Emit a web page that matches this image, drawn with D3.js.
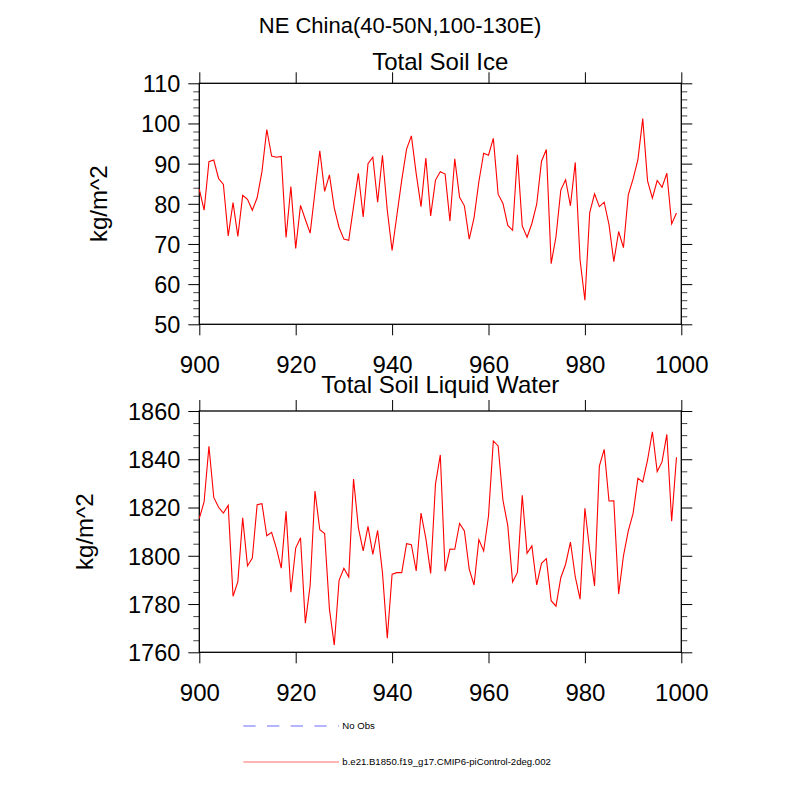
<!DOCTYPE html>
<html>
<head>
<meta charset="utf-8">
<script src="https://cdn.jsdelivr.net/npm/d3@7"></script>
<style>
  html, body { margin: 0; padding: 0; background: #fff; }
  svg { display: block; font-family: "Liberation Sans", Arial, Helvetica, sans-serif; }
</style>
</head>
<body>
<svg id="chart" width="800" height="800"></svg>
<script>
const mainTitle = "NE China(40-50N,100-130E)";
const panelTitles = ["Total Soil Ice", "Total Soil Liquid Water"];
const yLabel = "kg/m^2";
const startYear = 900;
const xTicks = [900, 920, 940, 960, 980, 1000];

const soilIce = [
  83.6, 78.4, 90.5, 90.9, 86.3, 84.8, 72.0, 80.3, 71.9, 82.1,
  81.1, 78.4, 81.5, 88.0, 98.5, 91.9, 91.6, 91.8, 71.6, 84.3,
  68.9, 79.6, 76.1, 72.7, 83.0, 93.2, 83.1, 87.2, 79.0, 74.1,
  71.2, 70.9, 79.3, 87.6, 76.7, 90.0, 91.6, 80.4, 92.1, 78.4,
  68.4, 77.2, 85.9, 93.6, 96.9, 87.5, 79.3, 91.4, 77.0, 85.9,
  88.0, 87.4, 75.7, 91.2, 81.6, 79.5, 71.2, 76.5, 85.5, 92.6,
  92.1, 96.3, 82.4, 80.1, 74.6, 73.4, 92.2, 74.5, 71.7, 75.1,
  79.9, 90.6, 93.5, 65.1, 71.8, 83.4, 86.0, 79.5, 90.3, 66.0,
  56.0, 77.8, 82.5, 79.3, 80.4, 74.8, 65.6, 73.1, 69.1, 82.2,
  86.2, 91.0, 101.2, 85.7, 81.4, 85.8, 84.1, 87.6, 75.0, 77.7
];

const soilLiquid = [
  1815.5, 1822.4, 1845.4, 1824.2, 1820.1, 1817.7, 1820.9, 1783.2, 1789.3, 1815.7,
  1795.8, 1799.1, 1821.2, 1821.6, 1808.3, 1809.7, 1803.1, 1794.9, 1818.4, 1784.9,
  1803.2, 1807.5, 1772.1, 1787.8, 1826.8, 1810.8, 1809.2, 1777.9, 1763.0, 1789.8,
  1794.8, 1791.2, 1831.8, 1811.7, 1802.0, 1812.2, 1800.6, 1810.5, 1793.0, 1765.8,
  1792.4, 1793.0, 1793.0, 1805.0, 1804.6, 1793.7, 1817.7, 1807.2, 1792.7, 1829.7,
  1841.8, 1793.6, 1802.8, 1802.7, 1813.4, 1810.3, 1794.5, 1787.9, 1806.7, 1802.0,
  1816.5, 1847.6, 1845.5, 1823.0, 1812.5, 1789.1, 1793.1, 1825.1, 1801.0, 1804.1,
  1787.9, 1796.9, 1798.8, 1781.4, 1779.1, 1790.9, 1796.5, 1805.7, 1791.3, 1782.0,
  1819.7, 1802.1, 1787.5, 1837.2, 1844.1, 1822.7, 1822.8, 1784.2, 1800.0, 1810.3,
  1817.6, 1832.1, 1830.6, 1839.7, 1851.4, 1834.9, 1838.9, 1850.3, 1814.3, 1840.8
];

const iceYTicks = [50, 60, 70, 80, 90, 100, 110];
const liquidYTicks = [1760, 1780, 1800, 1820, 1840, 1860];

const legendLabels = ["No Obs", "b.e21.B1850.f19_g17.CMIP6-piControl-2deg.002"];
const legendColors = ["#b4b4ff", "#ffb4b4"];

const svg = d3.select("#chart");

const x = d3.scaleLinear().domain([900, 1000]).range([199.3, 681.3]);

const panels = [
  { title: panelTitles[0], values: soilIce, domain: [50, 110], ticks: iceYTicks, minorStep: 2,
    top: 83.3, bottom: 324.3, titleY: 70, xLabelY: 372.7, yLabelX: 107 },
  { title: panelTitles[1], values: soilLiquid, domain: [1760, 1860], ticks: liquidYTicks, minorStep: 5,
    top: 411, bottom: 652.3, titleY: 392.7, xLabelY: 701, yLabelX: 93 }
];

svg.append("text")
  .attr("x", 400).attr("y", 32.7)
  .attr("text-anchor", "middle")
  .attr("font-size", 22)
  .text(mainTitle);

panels.forEach(p => {
  const y = d3.scaleLinear().domain(p.domain).range([p.bottom, p.top]);
  const g = svg.append("g");
  const [x0, x1] = x.range();

  // minor y ticks
  const minors = d3.range(p.domain[0], p.domain[1] + 0.001, p.minorStep)
    .filter(v => !p.ticks.includes(v));

  // left axis
  g.append("g").attr("transform", `translate(${x0},0)`)
    .call(d3.axisLeft(y).tickValues(p.ticks).tickSize(11).tickPadding(8).tickFormat(d3.format("d")))
    .call(a => a.select(".domain").remove())
    .call(a => a.selectAll("text").attr("font-size", 23.5).attr("font-family", "Liberation Sans, Arial, sans-serif").attr("fill", "#000").attr("dy", "0.36em"))
    .call(a => a.selectAll("line").attr("stroke", "#000"));
  g.append("g").attr("transform", `translate(${x0},0)`)
    .call(d3.axisLeft(y).tickValues(minors).tickSize(6).tickFormat(""))
    .call(a => a.select(".domain").remove())
    .call(a => a.selectAll("line").attr("stroke", "#444"));

  // right axis
  g.append("g").attr("transform", `translate(${x1},0)`)
    .call(d3.axisRight(y).tickValues(p.ticks).tickSize(11).tickFormat(""))
    .call(a => a.select(".domain").remove())
    .call(a => a.selectAll("line").attr("stroke", "#000"));
  g.append("g").attr("transform", `translate(${x1},0)`)
    .call(d3.axisRight(y).tickValues(minors).tickSize(6).tickFormat(""))
    .call(a => a.select(".domain").remove())
    .call(a => a.selectAll("line").attr("stroke", "#444"));

  // bottom axis
  g.append("g").attr("transform", `translate(0,${p.bottom})`)
    .call(d3.axisBottom(x).tickValues(xTicks).tickSize(11).tickPadding(0).tickFormat(d3.format("d")))
    .call(a => a.select(".domain").remove())
    .call(a => a.selectAll("line").attr("stroke", "#000"))
    .call(a => a.selectAll("text").attr("font-size", 24).attr("fill", "#000")
      .attr("font-family", "Liberation Sans, Arial, sans-serif")
      .attr("y", p.xLabelY - p.bottom).attr("dy", null));

  // top axis
  g.append("g").attr("transform", `translate(0,${p.top})`)
    .call(d3.axisTop(x).tickValues(xTicks).tickSize(11).tickFormat(""))
    .call(a => a.select(".domain").remove())
    .call(a => a.selectAll("line").attr("stroke", "#000"));

  // frame
  g.append("rect")
    .attr("x", x0).attr("y", p.top)
    .attr("width", x1 - x0).attr("height", p.bottom - p.top)
    .attr("fill", "none").attr("stroke", "#000").attr("stroke-width", 1.3);

  // data line
  const line = d3.line()
    .x((d, i) => x(startYear + i))
    .y(d => y(d));
  g.append("path")
    .datum(p.values)
    .attr("d", line)
    .attr("fill", "none")
    .attr("stroke", "#ff0000")
    .attr("stroke-width", 1.1)
    .attr("stroke-linejoin", "miter");

  // panel title
  svg.append("text")
    .attr("x", (x0 + x1) / 2).attr("y", p.titleY)
    .attr("text-anchor", "middle")
    .attr("font-size", 24)
    .text(p.title);

  // y label
  svg.append("text")
    .attr("transform", `translate(${p.yLabelX},${(p.top + p.bottom) / 2}) rotate(-90)`)
    .attr("text-anchor", "middle")
    .attr("font-size", 24)
    .text(yLabel);
});

// legend
const legendY = [726, 762];
const lg = svg.append("g");
legendLabels.forEach((lab, i) => {
  lg.append("line")
    .attr("x1", 243.3).attr("x2", 339)
    .attr("y1", legendY[i]).attr("y2", legendY[i])
    .attr("stroke", legendColors[i])
    .attr("stroke-width", 2)
    .attr("stroke-dasharray", i === 0 ? "12.3,11.4" : null);
  lg.append("text")
    .attr("x", 342.3).attr("y", legendY[i] + 3.4)
    .attr("font-size", 9.6)
    .text(lab);
});
</script>
</body>
</html>
